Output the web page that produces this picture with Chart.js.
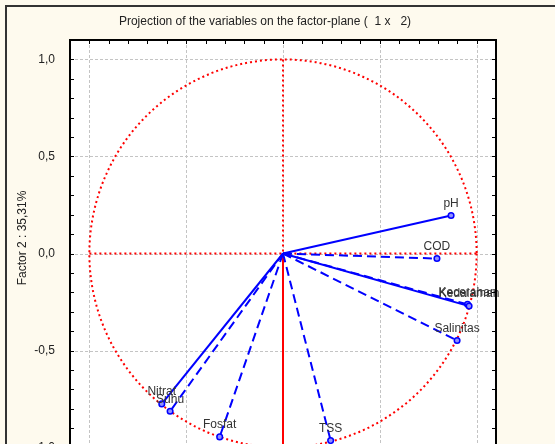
<!DOCTYPE html>
<html>
<head>
<meta charset="utf-8">
<script src="https://cdn.jsdelivr.net/npm/chart.js@4/dist/chart.umd.min.js"></script>
<style>
  html, body { margin: 0; padding: 0; background: #fefaee; overflow: hidden; }
  #wrap { width: 555px; height: 520px; }
</style>
</head>
<body>
<div id="wrap"><canvas id="c" width="555" height="520"></canvas></div>
<script>
// Factor loadings of the water-quality variables on factors 1 and 2
const variables = ['pH', 'COD', 'Kedalaman', 'Kecerahan', 'Salinitas', 'TSS', 'Fosfat', 'Suhu', 'Nitrat'];
const factor1 = [0.868, 0.795, 0.961, 0.953, 0.899, 0.246, -0.327, -0.583, -0.626];
const factor2 = [0.196, -0.026, -0.271, -0.262, -0.448, -0.964, -0.945, -0.813, -0.775];
const axisTicks = [-1, -0.5, 0, 0.5, 1];

const chartTitle = 'Projection of the variables on the factor-plane (  1 x   2)';
const yTitle = 'Factor 2 : 35,31%';

const FONT = "'Liberation Sans', Arial, sans-serif";
const SOLID = ['pH', 'Kedalaman', 'Nitrat'];

const fmt = v => (Math.abs(v) < 1e-9 ? 0 : v).toFixed(1).replace('.', ',');

const datasets = variables.map((name, i) => ({
  label: name,
  data: [{ x: 0, y: 0 }, { x: factor1[i], y: factor2[i] }],
  showLine: true,
  borderColor: '#0000ff',
  borderWidth: 2,
  borderDash: SOLID.includes(name) ? [] : [9, 5],
  pointRadius: [0, 2.8],
  pointBorderColor: '#0000ff',
  pointBackgroundColor: '#9090ff',
  pointBorderWidth: 1.5
}));

// Dashed grid, unit circle and the red cross through the origin
const referencePlugin = {
  id: 'reference',
  beforeDatasetsDraw(chart) {
    const { ctx, scales: { x, y }, chartArea: a } = chart;
    ctx.save();
    ctx.beginPath();
    ctx.rect(a.left, a.top, a.right - a.left, a.bottom - a.top);
    ctx.clip();

    ctx.strokeStyle = '#c4c4c4';
    ctx.lineWidth = 1;
    ctx.setLineDash([3, 2]);
    ctx.beginPath();
    axisTicks.forEach(v => {
      const px = Math.round(x.getPixelForValue(v)) + 0.5;
      ctx.moveTo(px, a.top); ctx.lineTo(px, a.bottom);
      const py = Math.round(y.getPixelForValue(v)) + 0.5;
      ctx.moveTo(a.left, py); ctx.lineTo(a.right, py);
    });
    ctx.stroke();

    const cx = x.getPixelForValue(0), cy = y.getPixelForValue(0);
    const rx = x.getPixelForValue(1) - cx, ry = cy - y.getPixelForValue(1);
    ctx.strokeStyle = '#ff0000';
    ctx.lineWidth = 2;
    ctx.setLineDash([2, 3]);
    ctx.beginPath();
    ctx.ellipse(cx, cy, rx, ry, 0, 0, Math.PI * 2);
    ctx.stroke();
    ctx.beginPath();
    ctx.moveTo(x.getPixelForValue(-1), cy);
    ctx.lineTo(x.getPixelForValue(1), cy);
    ctx.stroke();
    ctx.beginPath();
    ctx.moveTo(cx, y.getPixelForValue(1));
    ctx.lineTo(cx, cy);
    ctx.stroke();
    ctx.setLineDash([]);
    ctx.beginPath();
    ctx.moveTo(cx, cy);
    ctx.lineTo(cx, y.getPixelForValue(-1));
    ctx.stroke();
    ctx.restore();
  }
};

// Variable names above their loading points, frame, minor ticks and titles
const decorPlugin = {
  id: 'decor',
  beforeDraw(chart) {
    const { ctx, chartArea: a, width, height } = chart;
    ctx.save();
    ctx.fillStyle = '#fefaee';
    ctx.fillRect(0, 0, width, height);
    ctx.strokeStyle = '#333';
    ctx.lineWidth = 2;
    ctx.strokeRect(6, 6, width + 20, height + 20);
    ctx.fillStyle = '#ffffff';
    ctx.fillRect(a.left, a.top, a.right - a.left, a.bottom - a.top);
    ctx.restore();
  },
  afterDatasetsDraw(chart) {
    const { ctx } = chart;
    ctx.save();
    ctx.font = '12px ' + FONT;
    ctx.fillStyle = '#333';
    ctx.textAlign = 'center';
    ctx.textBaseline = 'middle';
    chart.data.datasets.forEach((ds, i) => {
      const pt = chart.getDatasetMeta(i).data[1];
      ctx.fillText(ds.label, pt.x, pt.y - 12);
    });
    ctx.restore();
  },
  afterDraw(chart) {
    const { ctx, chartArea: a, scales: { x, y } } = chart;
    ctx.save();
    ctx.strokeStyle = '#000';
    ctx.lineWidth = 1;
    ctx.beginPath();
    for (let k = -10; k <= 10; k++) {
      const v = k / 10;
      const px = Math.round(x.getPixelForValue(v)) + 0.5;
      ctx.moveTo(px, a.top); ctx.lineTo(px, a.top + 4);
      ctx.moveTo(px, a.bottom); ctx.lineTo(px, a.bottom - 4);
      const py = Math.round(y.getPixelForValue(v)) + 0.5;
      ctx.moveTo(a.left, py); ctx.lineTo(a.left + 4, py);
      ctx.moveTo(a.right, py); ctx.lineTo(a.right - 4, py);
    }
    ctx.stroke();
    ctx.lineWidth = 2;
    ctx.strokeRect(a.left, a.top, a.right - a.left, a.bottom - a.top);

    ctx.fillStyle = '#222';
    ctx.font = '12px ' + FONT;
    ctx.textAlign = 'center';
    ctx.textBaseline = 'middle';
    ctx.fillText(chartTitle, 265, 22);
    ctx.translate(23, 238);
    ctx.rotate(-Math.PI / 2);
    ctx.fillText(yTitle, 0, 0);
    ctx.restore();
  }
};

new Chart(document.getElementById('c'), {
  type: 'scatter',
  data: { datasets },
  options: {
    responsive: false,
    animation: false,
    layout: { padding: { top: 40, right: 59, left: 0, bottom: 0 } },
    plugins: { legend: { display: false }, tooltip: { enabled: false }, title: { display: false } },
    scales: {
      x: {
        min: -1.1, max: 1.1,
        border: { display: false },
        grid: { display: false },
        afterBuildTicks: s => { s.ticks = axisTicks.map(v => ({ value: v })); },
        afterFit: s => { s.height = 53; },
        ticks: { padding: 8, color: '#222', font: { family: FONT, size: 12 }, callback: v => fmt(v), maxRotation: 0 }
      },
      y: {
        min: -1.1, max: 1.1,
        border: { display: false },
        grid: { display: false },
        afterBuildTicks: s => { s.ticks = axisTicks.map(v => ({ value: v })); },
        afterFit: s => { s.width = 70; },
        ticks: { padding: 7, color: '#222', font: { family: FONT, size: 12 }, callback: v => fmt(v) }
      }
    }
  },
  plugins: [decorPlugin, referencePlugin]
});
</script>
</body>
</html>
